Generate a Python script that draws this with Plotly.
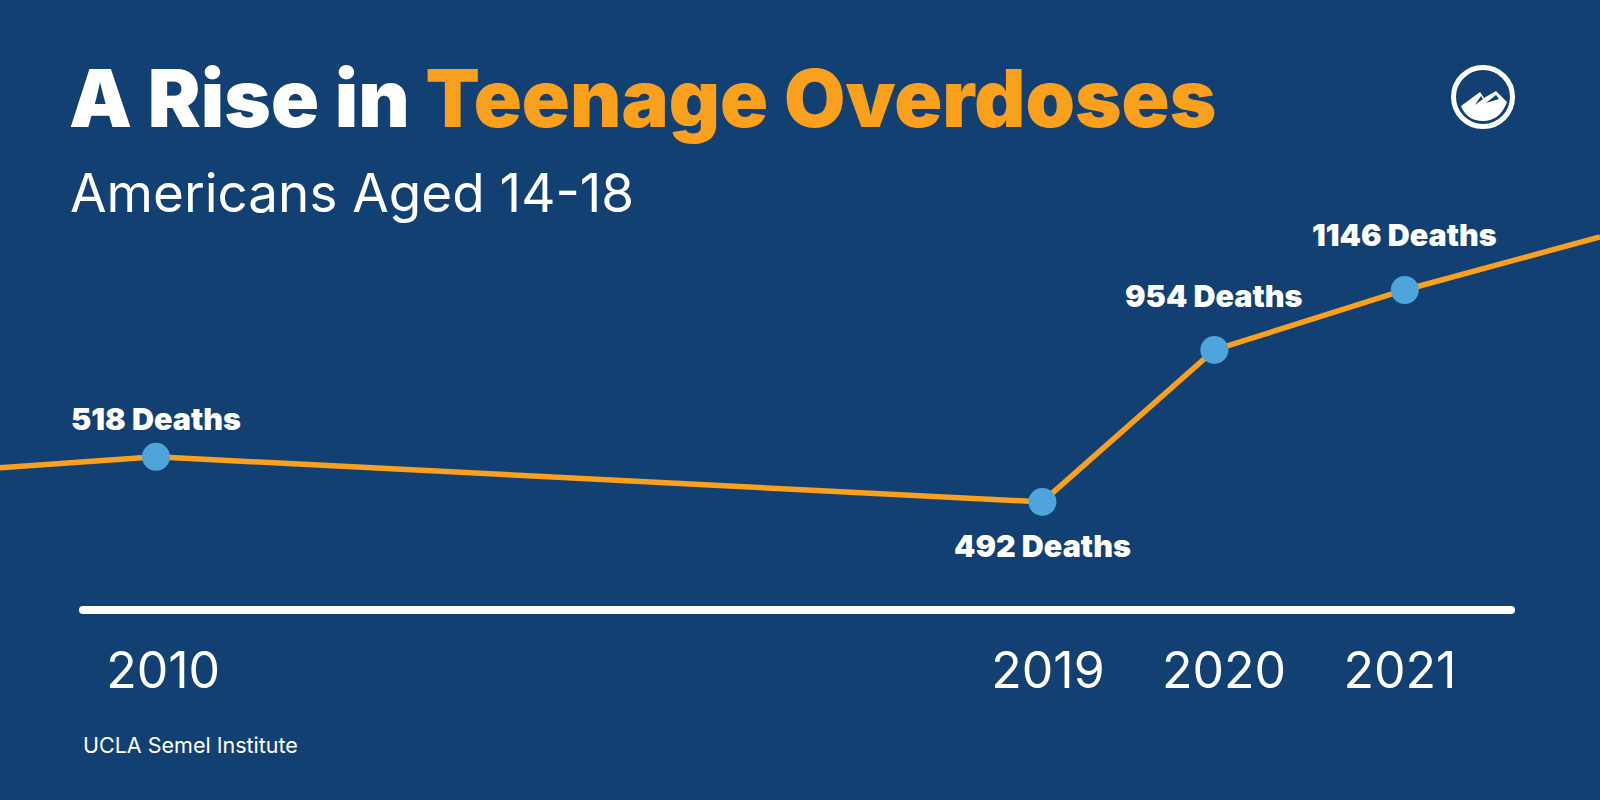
import plotly.graph_objects as go

# ---- data ----
years = [2010, 2019, 2020, 2021]
deaths = [518, 492, 954, 1146]
# the graphic's time axis is not to scale, so positions are read on a 0-1000 width axis
point_pos = [97.5, 651.5, 759, 878]
tick_pos = [102, 655, 765, 875]
tick_text = ["2010", "2019", "2020", "2021"]
# plotted height of each point on a deaths-like scale (2010 sits above its true value in the graphic)
point_height = [631, 492, 961, 1146]
# the line runs off both edges of the picture
line_pos = [0, 97.5, 651.5, 759, 878, 1000]
line_height = [597, 631, 492, 961, 1146, 1310]
label_shift = [38, -44, 54, 56]

NAVY = "#134073"
ORANGE = "#FBA01C"
BLUE = "#4EA5DC"
WHITE = "#FFFFFF"
FONT = "Inter"
W, H = 1600, 800


def px(x):
    return x / W


def py(y):
    return 1 - y / H


def path(cmds):
    out = []
    for c in cmds:
        if len(c) == 1:
            out.append(c[0])
        else:
            vals = c[1:]
            pairs = [f"{px(vals[i]):.5f},{py(vals[i+1]):.5f}" for i in range(0, len(vals), 2)]
            out.append(c[0] + " " + " ".join(pairs))
    return " ".join(out)


fig = go.Figure()
fig.add_trace(go.Scatter(x=line_pos, y=line_height, mode="lines",
                         line=dict(color=ORANGE, width=5.5), hoverinfo="skip", showlegend=False))
fig.add_trace(go.Scatter(x=point_pos, y=point_height, mode="markers",
                         marker=dict(color=BLUE, size=28), showlegend=False,
                         text=[f"{y}: {d} deaths" for y, d in zip(years, deaths)], hoverinfo="text"))

annotations = []
for x, y, d, shift in zip(point_pos, point_height, deaths, label_shift):
    annotations.append(dict(x=x, y=y, xref="x", yref="y", text=f"{d} Deaths", showarrow=False,
                            yshift=shift,
                            font=dict(family=FONT, size=30.5, color=WHITE, weight=900)))
annotations += [
    dict(x=px(67), y=py(98), xref="paper", yref="paper", xanchor="left", yanchor="middle",
         showarrow=False,
         text=f'A Rise in <span style="color:{ORANGE}">Teenage Overdoses</span>',
         font=dict(family=FONT, size=79.3, color=WHITE, weight=900)),
    dict(x=px(68), y=py(193), xref="paper", yref="paper", xanchor="left", yanchor="middle",
         showarrow=False, text="Americans Aged 14-18",
         font=dict(family=FONT, size=53, color=WHITE, weight=400)),
    dict(x=px(81), y=py(745), xref="paper", yref="paper", xanchor="left", yanchor="middle",
         showarrow=False, text="UCLA Semel Institute",
         font=dict(family=FONT, size=21.5, color=WHITE, weight=400)),
]

shapes = [
    # baseline with rounded ends
    dict(type="path", xref="paper", yref="paper", fillcolor=WHITE, line=dict(width=0),
         path=path([("M", 83, 606), ("L", 1511, 606), ("Q", 1515, 606, 1515, 610),
                    ("Q", 1515, 614, 1511, 614), ("L", 83, 614), ("Q", 79, 614, 79, 610),
                    ("Q", 79, 606, 83, 606), ("Z",)])),
    # logo ring
    dict(type="circle", xref="paper", yref="paper", x0=px(1453.5), x1=px(1512.5),
         y0=py(126.5), y1=py(67.5), fillcolor="rgba(0,0,0,0)", line=dict(color=WHITE, width=5)),
    # logo mountains
    dict(type="path", xref="paper", yref="paper", fillcolor=WHITE, line=dict(width=0),
         path=path([("M", 1461, 106), ("L", 1480, 92), ("L", 1484, 98), ("L", 1496, 91),
                    ("L", 1507, 102), ("Q", 1500, 121, 1483, 121), ("Q", 1467, 121, 1461, 106), ("Z",)])),
    dict(type="path", xref="paper", yref="paper", fillcolor=NAVY, line=dict(width=0),
         path=path([("M", 1475, 105), ("L", 1481, 96), ("L", 1483, 99), ("Z",)])),
    dict(type="path", xref="paper", yref="paper", fillcolor=NAVY, line=dict(width=0),
         path=path([("M", 1486, 103), ("L", 1496, 95), ("L", 1499, 99), ("Z",)])),
]

fig.update_layout(
    width=W, height=H, margin=dict(l=0, r=0, t=0, b=0),
    paper_bgcolor=NAVY, plot_bgcolor=NAVY, showlegend=False,
    annotations=annotations, shapes=shapes,
    xaxis=dict(range=[0, 1000], tickmode="array", tickvals=tick_pos, ticktext=tick_text,
               showgrid=False, zeroline=False, showline=False, anchor="free",
               position=py(609), ticks="outside", ticklen=18, tickcolor="rgba(0,0,0,0)",
               tickfont=dict(family=FONT, size=50, color=WHITE, weight=400)),
    yaxis=dict(range=[-428, 2041], visible=False),
)

fig.write_html("out.html", config=dict(displayModeBar=False),
               post_script="document.body.style.margin='0';document.body.style.overflow='hidden';")
